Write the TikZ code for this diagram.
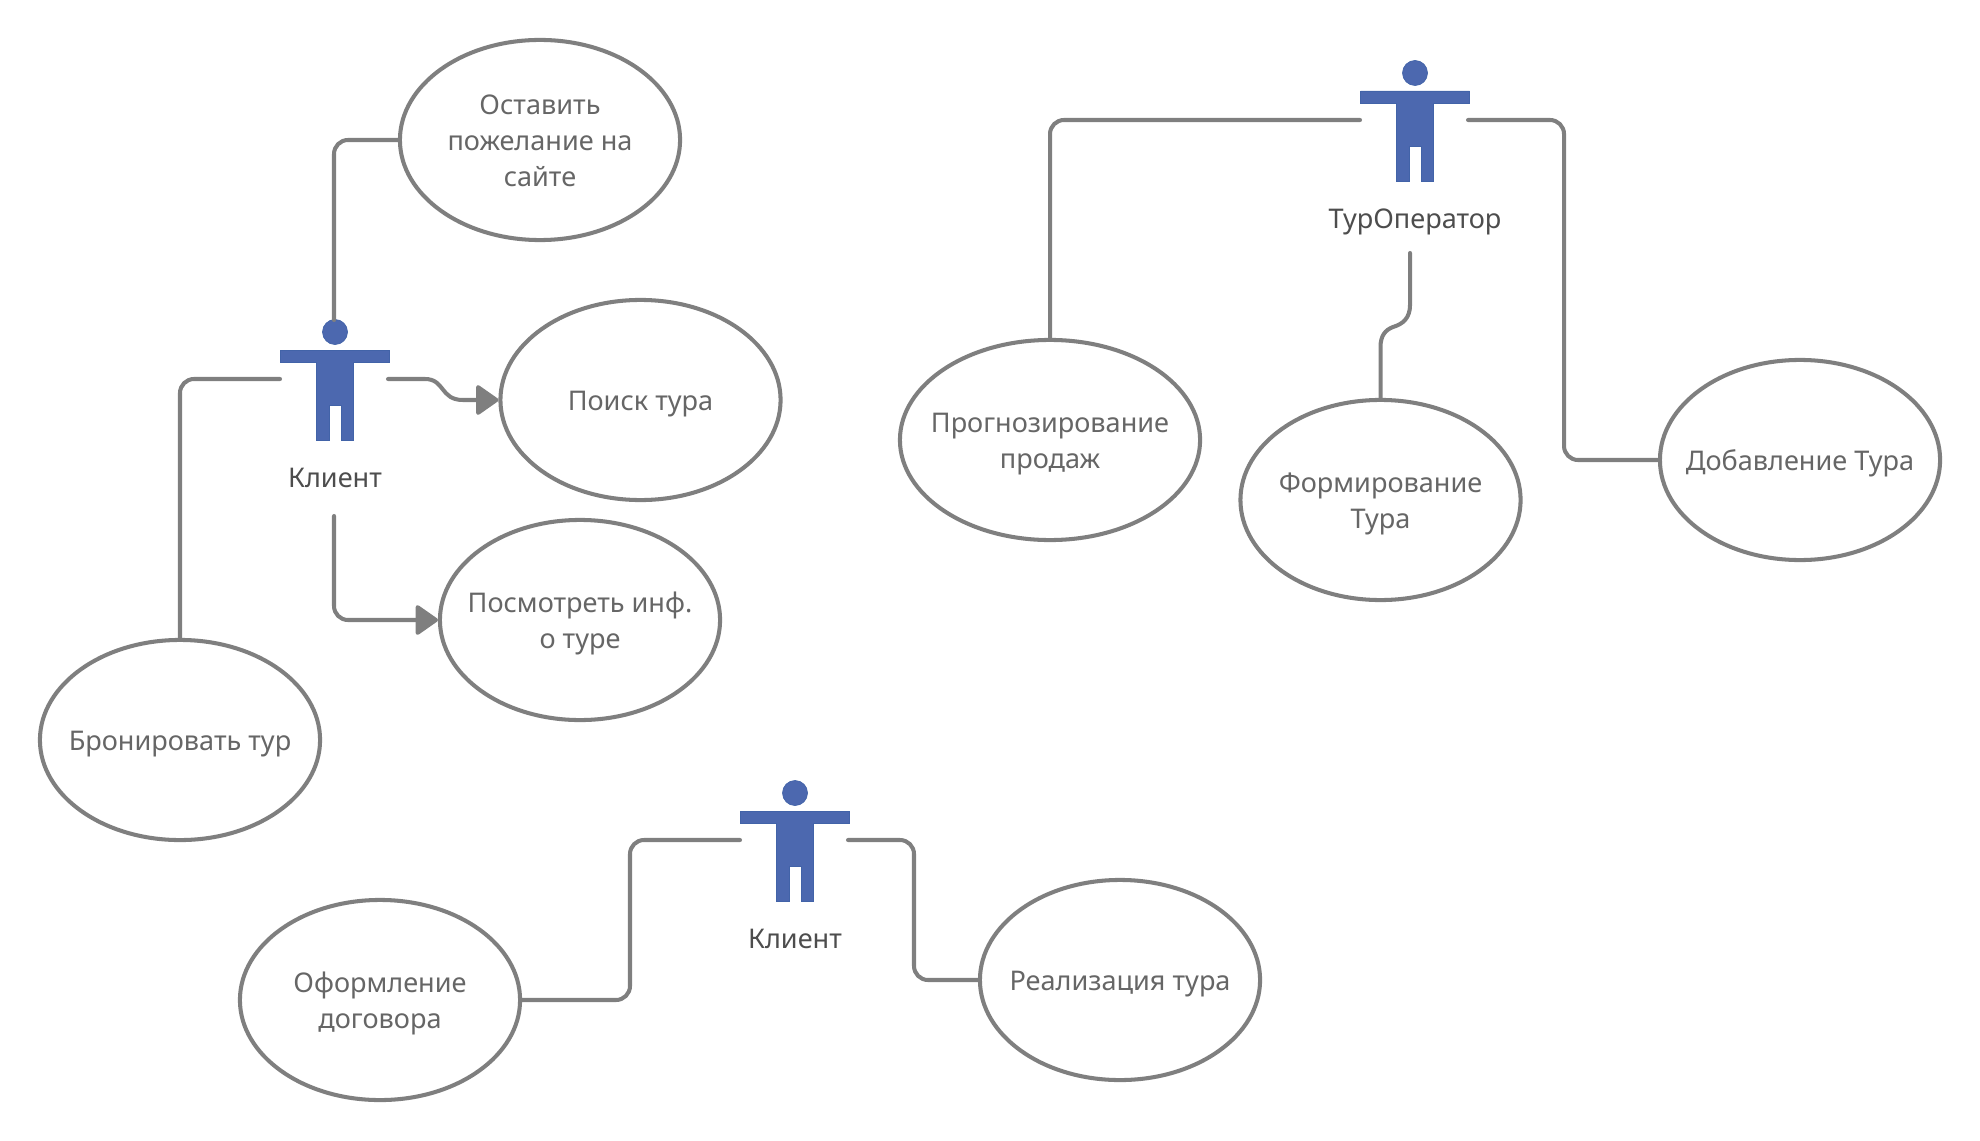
\documentclass[tikz,border=0pt]{standalone}
\usepackage{fontspec}
\setmainfont{Noto Sans}
\usetikzlibrary{shapes.geometric,arrows.meta,positioning}
\definecolor{linegray}{HTML}{7F7F7F}
\definecolor{usertext}{HTML}{666666}
\definecolor{actortext}{HTML}{4D4D4D}
\definecolor{actorblue}{HTML}{4C68AF}
\definecolor{actoredge}{HTML}{4263A8}
\newcommand{\casetext}[1]{\raisebox{0pt}[\dimexpr\height+0.06cm\relax][\depth]{\begin{tabular}{@{}c@{}}#1\end{tabular}}}
\tikzset{
  usecase/.style={ellipse, draw=linegray, line width=1.15pt, fill=white, text=usertext,
    minimum width=2.8cm, minimum height=2cm, inner xsep=-0.8cm, inner ysep=0pt,
    font=\fontsize{7.7pt}{10.3pt}\selectfont},
  conn/.style={draw=linegray, line width=1.15pt, line cap=round, rounded corners=0.14cm},
  tip/.style={-{Triangle[length=6.8pt, width=9.2pt, round]}},
  actor/.pic={
    \fill[actorblue, draw=actoredge, line width=0.2pt] (0,0) circle (12.5);
    \fill[actorblue, draw=actoredge, line width=0.2pt] (-54.5,18) -- (54.5,18) -- (54.5,30.5) -- (18.5,30.5) -- (18.5,108.5)
      -- (6,108.5) -- (6,73) -- (-6,73) -- (-6,108.5) -- (-18.5,108.5) -- (-18.5,30.5) -- (-54.5,30.5) -- (-54.5,18) -- cycle;
    \node[text=actortext, anchor=base, inner sep=0pt, font=\fontsize{7.7pt}{10.3pt}\selectfont] (-label) at (0,155.5) {#1};
    \coordinate (-left) at (-55,47);
    \coordinate (-right) at (53,47);
    \coordinate (-top) at (-1,-12);
    \coordinate (-bottom) at (-1,184);
  }
}
\begin{document}
\begin{tikzpicture}[x=0.01cm, y=-0.01cm]
  \useasboundingbox (0,0) rectangle (1980,1140);

  \pic (clientA) at (335,332) {actor=Клиент};
  \pic (tourop) at (1415,73) {actor=ТурОператор};
  \pic (clientB) at (795,793) {actor=Клиент};

  \node[usecase] (wish) at (540,140) {\casetext{Оставить\\пожелание на\\сайте}};
  \node[usecase] (search) at (640.5,400) {\casetext{Поиск тура}};
  \node[usecase] (info) at (580,620) {\casetext{Посмотреть инф.\\о туре}};
  \node[usecase] (book) at (180,740) {\casetext{Бронировать тур}};
  \node[usecase, minimum width=3cm] (forecast) at (1050,440) {\casetext{Прогнозирование\\продаж}};
  \node[usecase] (build) at (1380.5,500) {\casetext{Формирование\\Тура}};
  \node[usecase] (add) at (1800,460) {\casetext{Добавление Тура}};
  \node[usecase] (contract) at (380,1000) {\casetext{Оформление\\договора}};
  \node[usecase] (sale) at (1120,980) {\casetext{Реализация тура}};

  \coordinate (touropstub) at (1410,253);

  \draw[conn] (clientA-top) |- (wish.west);
  \draw[conn] (clientA-left) -| (book.north);
  \draw[conn, tip, sharp corners] (clientA-right) -- (425,379) .. controls (445,379) and (440,400) .. (463,400) -- (search.west);
  \draw[conn, tip] (clientA-bottom) |- (info.west);

  \draw[conn] (tourop-left) -| (forecast.north);
  \draw[conn] (tourop-right) -- ++(96,0) |- (add.west);
  \draw[conn, sharp corners] (touropstub) -- (1410,305) .. controls (1410,318) and (1403,324) .. (1393,327)
    .. controls (1385,330) and (1380.5,336) .. (1380.5,347) -- (build.north);

  \draw[conn] (clientB-left) -- ++(-110,0) |- (contract.east);
  \draw[conn] (clientB-right) -- ++(66,0) |- (sale.west);
\end{tikzpicture}
\end{document}
